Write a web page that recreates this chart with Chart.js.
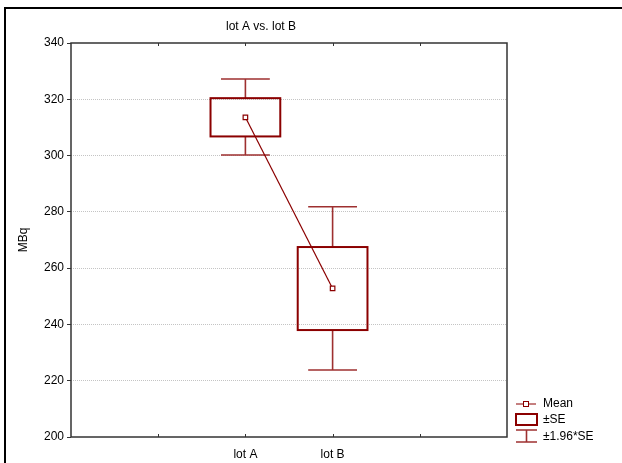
<!DOCTYPE html>
<html>
<head>
<meta charset="utf-8">
<script src="https://cdn.jsdelivr.net/npm/chart.js@4/dist/chart.umd.min.js"></script>
<style>
  html, body { margin: 0; padding: 0; background: #fff; }
  #wrap { width: 622px; height: 463px; position: relative; }
</style>
</head>
<body>
<div id="wrap"><canvas id="c" width="622" height="463"></canvas></div>
<script>
// data
const categories = ["lot A", "lot B"];
const catPositions = [2, 3];
const means = [313.6, 252.8];
const seLow = [306.8, 238.0];
const seHigh = [320.4, 267.5];
const ciLow = [300.2, 223.8];
const ciHigh = [327.2, 281.8];
const yTicks = [200, 220, 240, 260, 280, 300, 320, 340];
const xTickPositions = [0, 1, 2, 3, 4, 5];

const FONT = "Liberation Sans, Arial, sans-serif";
const BOX_COLOR = "#8b0000";
const WHISKER_COLOR = "#9e3030";
const BOX_HALF = 0.4;
const CAP_HALF = 0.28;

const boxPlugin = {
  id: "boxPlugin",
  beforeDraw(chart) {
    const ctx = chart.ctx;
    ctx.save();
    ctx.fillStyle = "#fff";
    ctx.fillRect(0, 0, chart.width, chart.height);
    // outer frame
    ctx.strokeStyle = "#000";
    ctx.lineWidth = 2;
    ctx.beginPath();
    ctx.moveTo(5, chart.height);
    ctx.lineTo(5, 8);
    ctx.lineTo(chart.width, 8);
    ctx.stroke();
    // title
    ctx.fillStyle = "#000";
    ctx.font = "12px " + FONT;
    ctx.textAlign = "center";
    ctx.textBaseline = "middle";
    ctx.fillText("lot A vs. lot B", 261, 27);
    ctx.restore();
  },
  beforeDatasetsDraw(chart) {
    const ctx = chart.ctx;
    const xs = chart.scales.x;
    const ys = chart.scales.y;
    const a = chart.chartArea;
    ctx.save();
    // plot border
    ctx.strokeStyle = "#333";
    ctx.lineWidth = 1.5;
    ctx.strokeRect(a.left, a.top, a.right - a.left, a.bottom - a.top);
    // inward x tick marks top and bottom
    ctx.lineWidth = 1;
    xTickPositions.slice(1, -1).forEach((v) => {
      const px = Math.round(xs.getPixelForValue(v)) + 0.5;
      ctx.beginPath();
      ctx.moveTo(px, a.bottom);
      ctx.lineTo(px, a.bottom - 3);
      ctx.moveTo(px, a.top);
      ctx.lineTo(px, a.top + 3);
      ctx.stroke();
    });

    catPositions.forEach((pos, i) => {
      const cx = xs.getPixelForValue(pos);
      const bl = xs.getPixelForValue(pos - BOX_HALF);
      const br = xs.getPixelForValue(pos + BOX_HALF);
      const cl = xs.getPixelForValue(pos - CAP_HALF);
      const cr = xs.getPixelForValue(pos + CAP_HALF);
      const yTop = ys.getPixelForValue(seHigh[i]);
      const yBot = ys.getPixelForValue(seLow[i]);
      const wTop = ys.getPixelForValue(ciHigh[i]);
      const wBot = ys.getPixelForValue(ciLow[i]);

      ctx.strokeStyle = WHISKER_COLOR;
      ctx.lineWidth = 1.6;
      ctx.beginPath();
      ctx.moveTo(cx, yTop);
      ctx.lineTo(cx, wTop);
      ctx.moveTo(cl, wTop);
      ctx.lineTo(cr, wTop);
      ctx.moveTo(cx, yBot);
      ctx.lineTo(cx, wBot);
      ctx.moveTo(cl, wBot);
      ctx.lineTo(cr, wBot);
      ctx.stroke();

      ctx.strokeStyle = BOX_COLOR;
      ctx.lineWidth = 2;
      ctx.strokeRect(bl, yTop, br - bl, yBot - yTop);
    });
    ctx.restore();
  },
  afterDraw(chart) {
    const ctx = chart.ctx;
    const a = chart.chartArea;
    const lx = a.right + 9;
    const tx = a.right + 36;
    ctx.save();
    ctx.font = "12px " + FONT;
    ctx.fillStyle = "#000";
    ctx.textAlign = "left";
    ctx.textBaseline = "middle";

    // Mean
    ctx.strokeStyle = BOX_COLOR;
    ctx.lineWidth = 1;
    ctx.beginPath();
    ctx.moveTo(lx, 404);
    ctx.lineTo(lx + 20, 404);
    ctx.stroke();
    ctx.fillStyle = "#fff";
    ctx.fillRect(lx + 7.5, 401, 5, 5);
    ctx.strokeRect(lx + 7.5, 401.5, 5, 5);
    ctx.fillStyle = "#000";
    ctx.fillText("Mean", tx, 404);

    // SE box
    ctx.lineWidth = 2;
    ctx.strokeRect(lx, 414, 21, 11);
    ctx.fillText("\u00b1SE", tx, 420);

    // 1.96 SE whisker
    ctx.strokeStyle = WHISKER_COLOR;
    ctx.lineWidth = 1.6;
    ctx.beginPath();
    ctx.moveTo(lx, 430);
    ctx.lineTo(lx + 21, 430);
    ctx.moveTo(lx + 10.5, 430);
    ctx.lineTo(lx + 10.5, 442);
    ctx.moveTo(lx, 442);
    ctx.lineTo(lx + 21, 442);
    ctx.stroke();
    ctx.fillText("\u00b11.96*SE", tx, 437);
    ctx.restore();
  }
};

new Chart(document.getElementById("c"), {
  type: "line",
  data: {
    datasets: [
      {
        label: "Mean",
        data: catPositions.map((x, i) => ({ x, y: means[i] })),
        borderColor: BOX_COLOR,
        borderWidth: 1.2,
        pointStyle: "rect",
        pointRadius: 3.2,
        pointBorderWidth: 1.2,
        pointBackgroundColor: "#fff",
        pointBorderColor: BOX_COLOR,
        tension: 0,
      },
    ],
  },
  options: {
    responsive: false,
    animation: false,
    events: [],
    layout: { padding: { left: 12, right: 115, top: 43, bottom: 0 } },
    plugins: { legend: { display: false }, title: { display: false }, tooltip: { enabled: false } },
    scales: {
      x: {
        type: "linear",
        min: 0,
        max: 5,
        afterBuildTicks: (s) => { s.ticks = xTickPositions.map((v) => ({ value: v })); },
        afterFit: (s) => { s.height = 26; },
        grid: { display: false },
        border: { display: false },
        ticks: {
          color: "#000",
          font: { family: FONT, size: 12 },
          padding: 2,
          maxRotation: 0,
          autoSkip: false,
          callback: (v) => {
            const i = catPositions.indexOf(v);
            return i >= 0 ? categories[i] : "";
          },
        },
      },
      y: {
        min: 200,
        max: 340,
        afterBuildTicks: (s) => { s.ticks = yTicks.map((v) => ({ value: v })); },
        afterFit: (s) => { s.width = 59; },
        border: { display: false, dash: [1, 1] },
        grid: {
          color: (c) => (c.tick && (c.tick.value === 200 || c.tick.value === 340) ? "rgba(0,0,0,0)" : "#c4c4c4"),
          tickColor: "#333",
          tickLength: 4,
          tickBorderDash: [],
          lineWidth: 1,
        },
        ticks: {
          color: "#000",
          font: { family: FONT, size: 12 },
          padding: 3,
        },
        title: {
          display: true,
          text: "MBq",
          color: "#000",
          font: { family: FONT, size: 12 },
          padding: { top: 4, bottom: 0 },
        },
      },
    },
  },
  plugins: [boxPlugin],
});
</script>
</body>
</html>
